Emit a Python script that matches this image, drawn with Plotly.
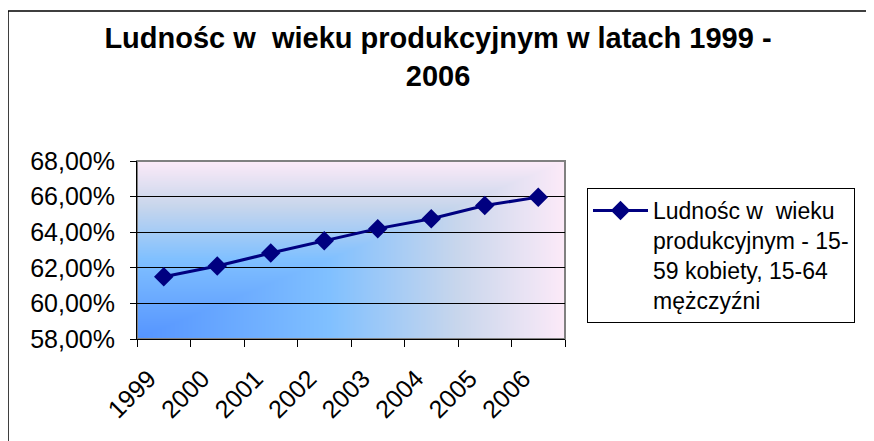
import base64
import struct
import zlib

import plotly.graph_objects as go

# data
years = ["1999", "2000", "2001", "2002", "2003", "2004", "2005", "2006"]
share = [0.615, 0.621, 0.6283, 0.6352, 0.6420, 0.6476, 0.6550, 0.6597]
series_name = "Ludnośc w  wieku<br>produkcyjnym - 15-<br>59 kobiety, 15-64<br>mężczyźni"
title_text = "Ludnośc w  wieku produkcyjnym w latach 1999 -<br>2006"

FONT = "Liberation Sans, Arial, sans-serif"
NAVY = "#000080"


## background gradient for the plot area (blue corner -> pink), built as a small png
def gradient_uri(w, h):
    stops = [(0.0, (85, 148, 255)), (0.45, (128, 192, 255)),
             (0.75, (200, 214, 236)), (1.0, (252, 234, 248))]

    def colour(t):
        for (t0, c0), (t1, c1) in zip(stops, stops[1:]):
            if t <= t1:
                f = (t - t0) / (t1 - t0)
                return bytes(round(a + (b - a) * f) for a, b in zip(c0, c1))
        return bytes(stops[-1][1])

    rows = bytearray()
    for j in range(h):
        rows.append(0)
        v = 1 - j / (h - 1)
        for i in range(w):
            u = i / (w - 1)
            rows.extend(colour(max(u, v)))

    def chunk(tag, data):
        return (struct.pack(">I", len(data)) + tag + data
                + struct.pack(">I", zlib.crc32(tag + data) & 0xFFFFFFFF))

    png = (b"\x89PNG\r\n\x1a\n"
           + chunk(b"IHDR", struct.pack(">IIBBBBB", w, h, 8, 2, 0, 0, 0))
           + chunk(b"IDAT", zlib.compress(bytes(rows)))
           + chunk(b"IEND", b""))
    return "data:image/png;base64," + base64.b64encode(png).decode()


fig = go.Figure()

fig.add_trace(go.Scatter(
    x=years,
    y=share,
    name=series_name,
    mode="lines+markers",
    line=dict(color=NAVY, width=3),
    marker=dict(symbol="diamond", size=15, color=NAVY),
))

# the page adds an 8px body margin, so margins are shifted by that amount
fig.update_layout(
    width=874,
    height=441,
    margin=dict(l=129, r=317, t=153, b=110, autoexpand=False),
    paper_bgcolor="white",
    plot_bgcolor="rgba(0,0,0,0)",
    separators=",.",
    font=dict(family=FONT, color="black", size=25),
    title=dict(
        text="<b>" + title_text + "</b>",
        font=dict(family=FONT, size=29, color="black"),
        x=0.492, xanchor="center", xref="container",
        y=0.909, yanchor="top", yref="container",
    ),
    showlegend=True,
    legend=dict(
        x=1.0514, xanchor="left",
        y=0.848, yanchor="top",
        bgcolor="white",
        bordercolor="black",
        borderwidth=1,
        font=dict(family=FONT, size=23, color="black"),
        itemwidth=55,
        valign="top",
    ),
    images=[dict(
        source=gradient_uri(428, 178),
        xref="paper", yref="paper",
        x=0, y=1, sizex=1, sizey=1,
        sizing="stretch", layer="below",
    )],
    shapes=[
        # plot area frame (grey top/right)
        dict(type="rect", xref="paper", yref="paper", x0=0, x1=1, y0=0, y1=1,
             line=dict(color="#808080", width=2), layer="below"),
        # chart frame
        dict(type="rect", xref="paper", yref="paper", x0=-0.3014, x1=2, y0=-2, y1=1.843,
             line=dict(color="black", width=1.5), layer="below"),
    ],
)

fig.update_xaxes(
    type="category",
    range=[-0.5, 7.5],
    automargin=False,
    tickson="boundaries",
    ticks="outside",
    ticklen=7,
    tickcolor="black",
    showline=True,
    linecolor="black",
    linewidth=1,
    showgrid=False,
    tickangle=-45,
    ticklabelstandoff=14,
    ticklabelshift=-15,
    tickfont=dict(size=25),
)

fig.update_yaxes(
    range=[0.58, 0.68],
    dtick=0.02,
    tick0=0.58,
    tickformat=".2%",
    automargin=False,
    ticks="outside",
    ticklen=6,
    tickcolor="black",
    showline=True,
    linecolor="black",
    linewidth=1,
    showgrid=True,
    gridcolor="black",
    gridwidth=1,
    zeroline=False,
    ticklabelstandoff=10,
    tickfont=dict(size=25),
)

fig.write_html("out.html")
